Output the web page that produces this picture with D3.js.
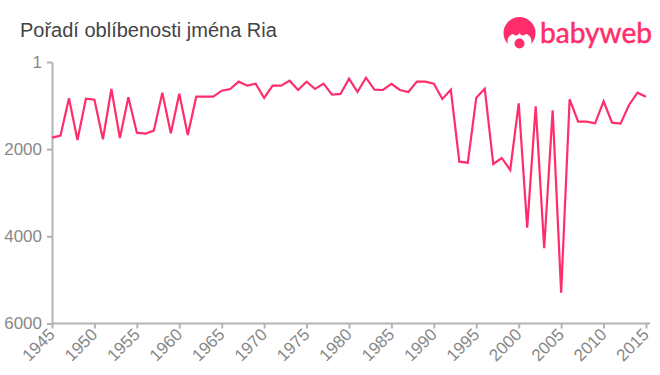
<!DOCTYPE html>
<html>

    <head>
        <meta charset="utf-8">
        <script src="https://d3js.org/d3.v7.min.js"></script>
        <style>
            html, body { margin: 0; padding: 0; background: #fff; }
            svg { display: block; }
            text { font-family: "Liberation Sans", Arial, sans-serif; }
        </style>
    </head>

    <body>
        <div id="chart-container"></div>

        <script>
            // Values
            const title = "Pořadí oblíbenosti jména Ria";
            const years = d3.range( 1945, 2016 );
            const ranks = [
                1737, 1691, 833, 1790, 842, 865, 1774, 620, 1744, 810,
                1622, 1645, 1576, 704, 1636, 727, 1675, 796, 796, 796,
                659, 620, 452, 544, 498, 826, 544, 544, 429, 643,
                452, 620, 498, 750, 734, 383, 688, 360, 636, 643,
                505, 643, 688, 452, 452, 498, 849, 636, 2288, 2311,
                819, 613, 2341, 2203, 2478, 948, 3802, 1017, 4275, 1108,
                5294, 856, 1370, 1370, 1407, 902, 1393, 1416, 987, 704, 796
            ];
            const xTicks = d3.range( 1945, 2016, 5 );
            const yTicks = [ 1, 2000, 4000, 6000 ];

            const width = 660;
            const height = 375;
            const margin = { top: 62, right: 14, bottom: 51.5, left: 52 };
            const pink = "#ff2d6b";
            const axisColor = "#b3b3b3";
            const labelColor = "#888888";

            const svg = d3.select( "#chart-container" )
                .append( "svg" )
                .attr( "width", width )
                .attr( "height", height );

            const xScale = d3.scaleLinear()
                .domain( [ 1945, 2015 ] )
                .range( [ margin.left, width - margin.right ] );

            const yScale = d3.scaleLinear()
                .domain( [ 1, 6000 ] )
                .range( [ margin.top, height - margin.bottom ] );

            // Title
            svg.append( "text" )
                .attr( "x", 20 )
                .attr( "y", 37 )
                .attr( "font-size", 20 )
                .attr( "fill", "#444" )
                .text( title );

            // Axes
            const xAxis = svg.append( "g" )
                .attr( "transform", `translate(0, ${ height - margin.bottom })` )
                .call( d3.axisBottom( xScale ).tickValues( xTicks ).tickFormat( d3.format( "d" ) ).tickSize( 5 ).tickSizeOuter( 0 ) );

            xAxis.select( ".domain" )
                .attr( "d", `M${ margin.left },0H650` );

            xAxis.selectAll( "text" )
                .attr( "font-size", 17 )
                .attr( "fill", labelColor )
                .attr( "text-anchor", "end" )
                .attr( "x", -6 )
                .attr( "y", 11 )
                .attr( "dy", 0 )
                .attr( "transform", "rotate(-45)" );

            const yAxis = svg.append( "g" )
                .attr( "transform", `translate(${ margin.left }, 0)` )
                .call( d3.axisLeft( yScale ).tickValues( yTicks ).tickFormat( d3.format( "d" ) ).tickSize( 5 ).tickSizeOuter( 0 ) );

            yAxis.selectAll( "text" )
                .attr( "font-size", 17 )
                .attr( "fill", labelColor )
                .attr( "x", -10 );

            svg.selectAll( ".domain" )
                .attr( "stroke", axisColor )
                .attr( "stroke-width", 2 )
                .attr( "fill", "none" );

            svg.selectAll( ".tick line" )
                .attr( "stroke", axisColor )
                .attr( "stroke-width", 2 );

            // Line
            const line = d3.line()
                .x( ( d, i ) => xScale( years[ i ] ) )
                .y( d => yScale( d ) );

            svg.append( "path" )
                .datum( ranks )
                .attr( "d", line )
                .attr( "fill", "none" )
                .attr( "stroke", pink )
                .attr( "stroke-width", 2.2 )
                .attr( "stroke-linejoin", "miter" );

            // Logo
            const logo = svg.append( "g" );

            logo.append( "circle" )
                .attr( "cx", 519.5 )
                .attr( "cy", 33 )
                .attr( "r", 16 )
                .attr( "fill", pink );

            logo.append( "path" )
                .attr( "d", "M508,45 C506,38 510,35 513,34 C515,36 518,36 519.5,33 C521,36 524,36 526,34 C529,35 533,38 531,45 C527,51 512,51 508,45 Z" )
                .attr( "fill", "#fff" );

            logo.append( "circle" )
                .attr( "cx", 519.5 )
                .attr( "cy", 43.5 )
                .attr( "r", 5 )
                .attr( "fill", pink );

            logo.append( "text" )
                .attr( "x", 540 )
                .attr( "y", 43 )
                .attr( "font-size", 28 )
                .attr( "textLength", 112 )
                .attr( "lengthAdjust", "spacingAndGlyphs" )
                .attr( "fill", pink )
                .attr( "stroke", pink )
                .attr( "stroke-width", 0.5 )
                .style( "font-family", "Lato, 'Noto Sans', sans-serif" )
                .text( "babyweb" );

        </script>
    </body>

</html>
